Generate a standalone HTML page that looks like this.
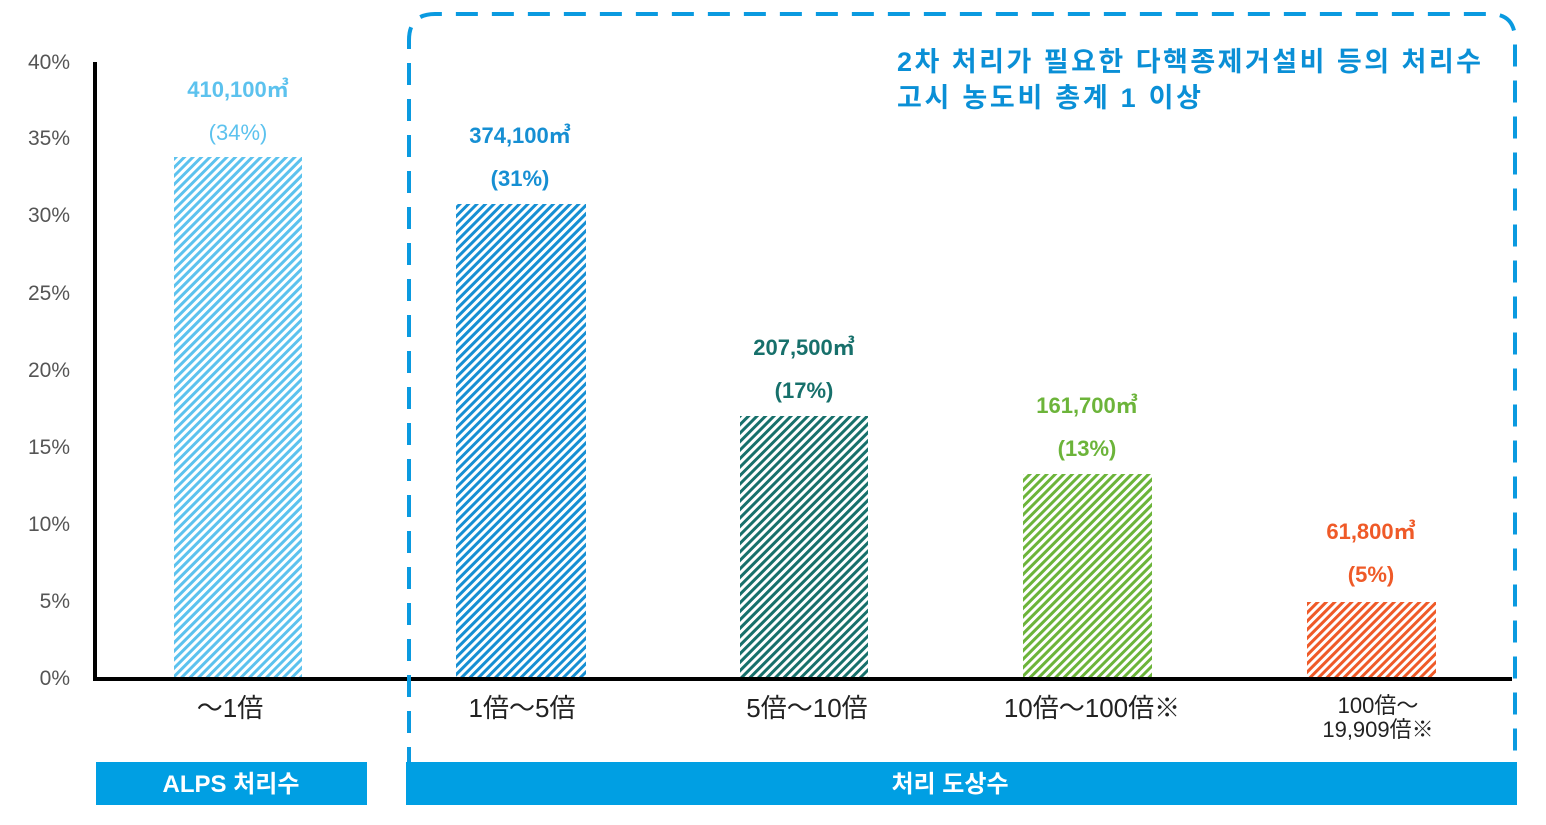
<!DOCTYPE html>
<html><head><meta charset="utf-8"><style>
body{margin:0;background:#fff}
svg text{font-family:"Liberation Sans","Noto Sans CJK KR",sans-serif}
</style></head><body>
<svg width="1546" height="820" xmlns="http://www.w3.org/2000/svg">
<defs>
<pattern id="p1" width="6" height="6" patternUnits="userSpaceOnUse" patternTransform="rotate(45)"><rect width="3" height="6" fill="#5cc2ee"/></pattern>
<pattern id="p2" width="6" height="6" patternUnits="userSpaceOnUse" patternTransform="rotate(45)"><rect width="3" height="6" fill="#168fd3"/></pattern>
<pattern id="p3" width="6" height="6" patternUnits="userSpaceOnUse" patternTransform="rotate(45)"><rect width="3" height="6" fill="#17706b"/></pattern>
<pattern id="p4" width="6" height="6" patternUnits="userSpaceOnUse" patternTransform="rotate(45)"><rect width="3" height="6" fill="#6cb43a"/></pattern>
<pattern id="p5" width="6" height="6" patternUnits="userSpaceOnUse" patternTransform="rotate(45)"><rect width="3" height="6" fill="#ef5a28"/></pattern>
</defs>
<g font-family="Liberation Serif" font-size="21" fill="#555" text-anchor="end" style="font-family:'Liberation Serif',serif">
<text x="70" y="69">40%</text><text x="70" y="145">35%</text><text x="70" y="222">30%</text>
<text x="70" y="300">25%</text><text x="70" y="377">20%</text><text x="70" y="454">15%</text>
<text x="70" y="531">10%</text><text x="70" y="608">5%</text><text x="70" y="685">0%</text>
</g>
<rect x="174" y="157" width="128" height="521" fill="url(#p1)"/>
<rect x="456" y="204" width="130" height="474" fill="url(#p2)"/>
<rect x="740" y="416" width="128" height="262" fill="url(#p3)"/>
<rect x="1023" y="474" width="129" height="204" fill="url(#p4)"/>
<rect x="1307" y="602" width="129" height="76" fill="url(#p5)"/>
<path d="M95 62 V679 H1512" fill="none" stroke="#000" stroke-width="4"/>
<path d="M409 805 V40 Q409 14 435 14 H1490 Q1515 14 1515 40 V760" fill="none" stroke="#0a9ae0" stroke-width="4" stroke-dasharray="22 14"/>
<g font-size="22" font-weight="bold" text-anchor="middle">
<text x="238" y="97" fill="#5cc2ee">410,100㎥</text><text x="238" y="140" fill="#5cc2ee" font-weight="normal">(34%)</text>
<text x="520" y="143" fill="#168fd3">374,100㎥</text><text x="520" y="186" fill="#168fd3">(31%)</text>
<text x="804" y="355" fill="#17706b">207,500㎥</text><text x="804" y="398" fill="#17706b">(17%)</text>
<text x="1087" y="413" fill="#6cb43a">161,700㎥</text><text x="1087" y="456" fill="#6cb43a">(13%)</text>
<text x="1371" y="539" fill="#ef5a28">61,800㎥</text><text x="1371" y="582" fill="#ef5a28">(5%)</text>
</g>
<g font-size="27" fill="#0a8fd6" font-weight="bold" letter-spacing="1">
<text x="897" y="71" textLength="585" lengthAdjust="spacing">2차 처리가 필요한 다핵종제거설비 등의 처리수</text>
<text x="897" y="107" textLength="305" lengthAdjust="spacing">고시 농도비 총계 1 이상</text>
</g>
<g font-size="26" fill="#222" text-anchor="middle">
<text x="230" y="717">～1倍</text>
<text x="522" y="717">1倍～5倍</text>
<text x="807" y="717">5倍～10倍</text>
<text x="1092" y="717">10倍～100倍※</text>
<text x="1378" y="713" font-size="22">100倍～</text>
<text x="1378" y="737" font-size="22">19,909倍※</text>
</g>
<rect x="96" y="762" width="271" height="43" fill="#009fe3"/>
<rect x="406" y="762" width="1111" height="43" fill="#009fe3"/>
<g font-size="24" fill="#fff" text-anchor="middle" font-weight="bold">
<text x="231" y="792">ALPS 처리수</text>
<text x="950" y="792">처리 도상수</text>
</g>
</svg>
</body></html>
